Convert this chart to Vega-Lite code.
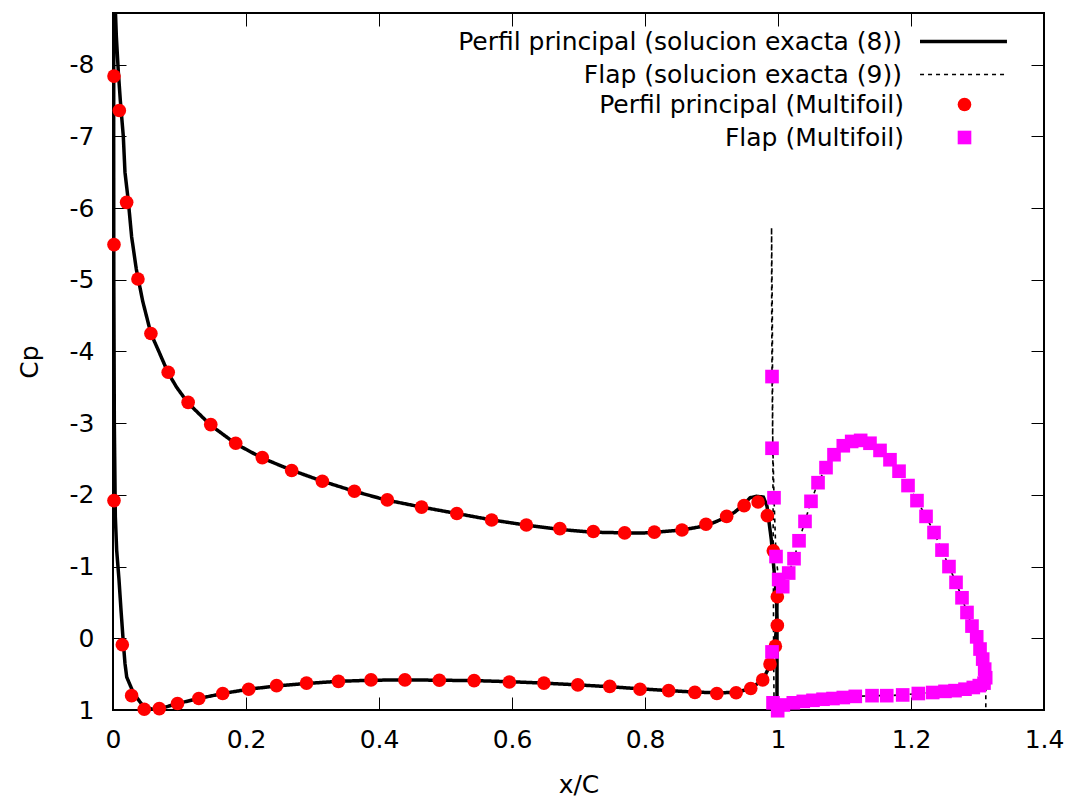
{
  "$schema": "https://vega.github.io/schema/vega-lite/v6.json",
  "width": 931,
  "height": 697,
  "autosize": "none",
  "padding": {"left": 113, "top": 13, "right": 28, "bottom": 90},
  "background": "white",
  "config": {
    "font": "DejaVu Sans",
    "view": {"stroke": "#000", "strokeWidth": 2},
    "axis": {
      "grid": false, "domain": false,
      "labelFont": "DejaVu Sans", "labelFontSize": 25, "labelColor": "#000",
      "tickColor": "#000", "tickSize": -13, "tickWidth": 1,
      "titleFont": "DejaVu Sans", "titleFontSize": 25, "titleFontWeight": "normal", "titleColor": "#000",
      "labelFlush": false, "labelOverlap": false, "labelBound": false
    },
    "legend": {
      "labelFont": "DejaVu Sans", "labelFontSize": 25, "labelColor": "#000", "labelLimit": 2000, "padding": 0
    }
  },
  "datasets": {
    "exact": [
      {"serie": "Perfil principal (solucion exacta (8))", "o": 1, "x": 0.9985, "y": 0.82},
      {"serie": "Perfil principal (solucion exacta (8))", "o": 2, "x": 0.9985, "y": 0.3},
      {"serie": "Perfil principal (solucion exacta (8))", "o": 3, "x": 0.9985, "y": -0.3},
      {"serie": "Perfil principal (solucion exacta (8))", "o": 4, "x": 0.9975, "y": -0.6},
      {"serie": "Perfil principal (solucion exacta (8))", "o": 5, "x": 0.995, "y": -0.85},
      {"serie": "Perfil principal (solucion exacta (8))", "o": 6, "x": 0.99, "y": -1.37},
      {"serie": "Perfil principal (solucion exacta (8))", "o": 7, "x": 0.9835, "y": -1.84},
      {"serie": "Perfil principal (solucion exacta (8))", "o": 8, "x": 0.978, "y": -1.97},
      {"serie": "Perfil principal (solucion exacta (8))", "o": 9, "x": 0.968, "y": -1.98},
      {"serie": "Perfil principal (solucion exacta (8))", "o": 10, "x": 0.958, "y": -1.96},
      {"serie": "Perfil principal (solucion exacta (8))", "o": 11, "x": 0.949, "y": -1.87},
      {"serie": "Perfil principal (solucion exacta (8))", "o": 12, "x": 0.935, "y": -1.76},
      {"serie": "Perfil principal (solucion exacta (8))", "o": 13, "x": 0.92, "y": -1.68},
      {"serie": "Perfil principal (solucion exacta (8))", "o": 14, "x": 0.9, "y": -1.6},
      {"serie": "Perfil principal (solucion exacta (8))", "o": 15, "x": 0.88, "y": -1.55},
      {"serie": "Perfil principal (solucion exacta (8))", "o": 16, "x": 0.855, "y": -1.51},
      {"serie": "Perfil principal (solucion exacta (8))", "o": 17, "x": 0.83, "y": -1.49},
      {"serie": "Perfil principal (solucion exacta (8))", "o": 18, "x": 0.8, "y": -1.47},
      {"serie": "Perfil principal (solucion exacta (8))", "o": 19, "x": 0.77, "y": -1.47},
      {"serie": "Perfil principal (solucion exacta (8))", "o": 20, "x": 0.72, "y": -1.48},
      {"serie": "Perfil principal (solucion exacta (8))", "o": 21, "x": 0.67, "y": -1.52},
      {"serie": "Perfil principal (solucion exacta (8))", "o": 22, "x": 0.62, "y": -1.58},
      {"serie": "Perfil principal (solucion exacta (8))", "o": 23, "x": 0.57, "y": -1.65},
      {"serie": "Perfil principal (solucion exacta (8))", "o": 24, "x": 0.517, "y": -1.74},
      {"serie": "Perfil principal (solucion exacta (8))", "o": 25, "x": 0.464, "y": -1.83},
      {"serie": "Perfil principal (solucion exacta (8))", "o": 26, "x": 0.41, "y": -1.93},
      {"serie": "Perfil principal (solucion exacta (8))", "o": 27, "x": 0.363, "y": -2.05},
      {"serie": "Perfil principal (solucion exacta (8))", "o": 28, "x": 0.315, "y": -2.19},
      {"serie": "Perfil principal (solucion exacta (8))", "o": 29, "x": 0.27, "y": -2.34},
      {"serie": "Perfil principal (solucion exacta (8))", "o": 30, "x": 0.225, "y": -2.51},
      {"serie": "Perfil principal (solucion exacta (8))", "o": 31, "x": 0.185, "y": -2.71},
      {"serie": "Perfil principal (solucion exacta (8))", "o": 32, "x": 0.147, "y": -2.97},
      {"serie": "Perfil principal (solucion exacta (8))", "o": 33, "x": 0.113, "y": -3.28},
      {"serie": "Perfil principal (solucion exacta (8))", "o": 34, "x": 0.0957, "y": -3.5},
      {"serie": "Perfil principal (solucion exacta (8))", "o": 35, "x": 0.083, "y": -3.7},
      {"serie": "Perfil principal (solucion exacta (8))", "o": 36, "x": 0.068, "y": -4.02},
      {"serie": "Perfil principal (solucion exacta (8))", "o": 37, "x": 0.057, "y": -4.25},
      {"serie": "Perfil principal (solucion exacta (8))", "o": 38, "x": 0.0447, "y": -4.7},
      {"serie": "Perfil principal (solucion exacta (8))", "o": 39, "x": 0.035, "y": -5.15},
      {"serie": "Perfil principal (solucion exacta (8))", "o": 40, "x": 0.028, "y": -5.6},
      {"serie": "Perfil principal (solucion exacta (8))", "o": 41, "x": 0.023, "y": -6.1},
      {"serie": "Perfil principal (solucion exacta (8))", "o": 42, "x": 0.018, "y": -6.5},
      {"serie": "Perfil principal (solucion exacta (8))", "o": 43, "x": 0.0155, "y": -7.0},
      {"serie": "Perfil principal (solucion exacta (8))", "o": 44, "x": 0.011, "y": -7.5},
      {"serie": "Perfil principal (solucion exacta (8))", "o": 45, "x": 0.008, "y": -7.9},
      {"serie": "Perfil principal (solucion exacta (8))", "o": 46, "x": 0.005, "y": -8.4},
      {"serie": "Perfil principal (solucion exacta (8))", "o": 47, "x": 0.003, "y": -8.9},
      {"serie": "Perfil principal (solucion exacta (8))", "o": 48, "x": 0.002, "y": -9.3},
      {"serie": "Perfil principal (solucion exacta (8))", "o": 49, "x": 0.0012, "y": -8.7},
      {"serie": "Perfil principal (solucion exacta (8))", "o": 50, "x": 0.001, "y": -7.0},
      {"serie": "Perfil principal (solucion exacta (8))", "o": 51, "x": 0.0012, "y": -5.0},
      {"serie": "Perfil principal (solucion exacta (8))", "o": 52, "x": 0.002, "y": -3.0},
      {"serie": "Perfil principal (solucion exacta (8))", "o": 53, "x": 0.0035, "y": -1.7},
      {"serie": "Perfil principal (solucion exacta (8))", "o": 54, "x": 0.0055, "y": -1.23},
      {"serie": "Perfil principal (solucion exacta (8))", "o": 55, "x": 0.009, "y": -0.82},
      {"serie": "Perfil principal (solucion exacta (8))", "o": 56, "x": 0.012, "y": -0.4},
      {"serie": "Perfil principal (solucion exacta (8))", "o": 57, "x": 0.0155, "y": 0.06},
      {"serie": "Perfil principal (solucion exacta (8))", "o": 58, "x": 0.018, "y": 0.35},
      {"serie": "Perfil principal (solucion exacta (8))", "o": 59, "x": 0.0206, "y": 0.54},
      {"serie": "Perfil principal (solucion exacta (8))", "o": 60, "x": 0.0306, "y": 0.76},
      {"serie": "Perfil principal (solucion exacta (8))", "o": 61, "x": 0.0456, "y": 0.95},
      {"serie": "Perfil principal (solucion exacta (8))", "o": 62, "x": 0.06, "y": 0.99},
      {"serie": "Perfil principal (solucion exacta (8))", "o": 63, "x": 0.075, "y": 0.97},
      {"serie": "Perfil principal (solucion exacta (8))", "o": 64, "x": 0.097, "y": 0.91},
      {"serie": "Perfil principal (solucion exacta (8))", "o": 65, "x": 0.129, "y": 0.84},
      {"serie": "Perfil principal (solucion exacta (8))", "o": 66, "x": 0.165, "y": 0.77},
      {"serie": "Perfil principal (solucion exacta (8))", "o": 67, "x": 0.204, "y": 0.71},
      {"serie": "Perfil principal (solucion exacta (8))", "o": 68, "x": 0.246, "y": 0.665},
      {"serie": "Perfil principal (solucion exacta (8))", "o": 69, "x": 0.291, "y": 0.63},
      {"serie": "Perfil principal (solucion exacta (8))", "o": 70, "x": 0.339, "y": 0.6},
      {"serie": "Perfil principal (solucion exacta (8))", "o": 71, "x": 0.388, "y": 0.585},
      {"serie": "Perfil principal (solucion exacta (8))", "o": 72, "x": 0.44, "y": 0.58},
      {"serie": "Perfil principal (solucion exacta (8))", "o": 73, "x": 0.49, "y": 0.585},
      {"serie": "Perfil principal (solucion exacta (8))", "o": 74, "x": 0.543, "y": 0.59},
      {"serie": "Perfil principal (solucion exacta (8))", "o": 75, "x": 0.596, "y": 0.605},
      {"serie": "Perfil principal (solucion exacta (8))", "o": 76, "x": 0.648, "y": 0.625},
      {"serie": "Perfil principal (solucion exacta (8))", "o": 77, "x": 0.699, "y": 0.65},
      {"serie": "Perfil principal (solucion exacta (8))", "o": 78, "x": 0.747, "y": 0.675},
      {"serie": "Perfil principal (solucion exacta (8))", "o": 79, "x": 0.793, "y": 0.705},
      {"serie": "Perfil principal (solucion exacta (8))", "o": 80, "x": 0.836, "y": 0.73},
      {"serie": "Perfil principal (solucion exacta (8))", "o": 81, "x": 0.875, "y": 0.75},
      {"serie": "Perfil principal (solucion exacta (8))", "o": 82, "x": 0.908, "y": 0.76},
      {"serie": "Perfil principal (solucion exacta (8))", "o": 83, "x": 0.937, "y": 0.755},
      {"serie": "Perfil principal (solucion exacta (8))", "o": 84, "x": 0.959, "y": 0.7},
      {"serie": "Perfil principal (solucion exacta (8))", "o": 85, "x": 0.977, "y": 0.58},
      {"serie": "Perfil principal (solucion exacta (8))", "o": 86, "x": 0.988, "y": 0.38},
      {"serie": "Perfil principal (solucion exacta (8))", "o": 87, "x": 0.995, "y": 0.12},
      {"serie": "Perfil principal (solucion exacta (8))", "o": 88, "x": 0.998, "y": -0.18},
      {"serie": "Perfil principal (solucion exacta (8))", "o": 89, "x": 0.9985, "y": -0.5},
      {"serie": "Flap (solucion exacta (9))", "o": 1, "x": 1.3125, "y": 0.96},
      {"serie": "Flap (solucion exacta (9))", "o": 2, "x": 1.3125, "y": 0.62},
      {"serie": "Flap (solucion exacta (9))", "o": 3, "x": 1.3123, "y": 0.55},
      {"serie": "Flap (solucion exacta (9))", "o": 4, "x": 1.3108, "y": 0.43},
      {"serie": "Flap (solucion exacta (9))", "o": 5, "x": 1.3078, "y": 0.29},
      {"serie": "Flap (solucion exacta (9))", "o": 6, "x": 1.3038, "y": 0.15},
      {"serie": "Flap (solucion exacta (9))", "o": 7, "x": 1.2988, "y": -0.02},
      {"serie": "Flap (solucion exacta (9))", "o": 8, "x": 1.2917, "y": -0.17},
      {"serie": "Flap (solucion exacta (9))", "o": 9, "x": 1.2842, "y": -0.36},
      {"serie": "Flap (solucion exacta (9))", "o": 10, "x": 1.2767, "y": -0.565},
      {"serie": "Flap (solucion exacta (9))", "o": 11, "x": 1.2677, "y": -0.78},
      {"serie": "Flap (solucion exacta (9))", "o": 12, "x": 1.2571, "y": -1.0},
      {"serie": "Flap (solucion exacta (9))", "o": 13, "x": 1.2466, "y": -1.23},
      {"serie": "Flap (solucion exacta (9))", "o": 14, "x": 1.2346, "y": -1.475},
      {"serie": "Flap (solucion exacta (9))", "o": 15, "x": 1.2226, "y": -1.7},
      {"serie": "Flap (solucion exacta (9))", "o": 16, "x": 1.209, "y": -1.92},
      {"serie": "Flap (solucion exacta (9))", "o": 17, "x": 1.1955, "y": -2.13},
      {"serie": "Flap (solucion exacta (9))", "o": 18, "x": 1.182, "y": -2.33},
      {"serie": "Flap (solucion exacta (9))", "o": 19, "x": 1.1684, "y": -2.49},
      {"serie": "Flap (solucion exacta (9))", "o": 20, "x": 1.1534, "y": -2.62},
      {"serie": "Flap (solucion exacta (9))", "o": 21, "x": 1.1383, "y": -2.72},
      {"serie": "Flap (solucion exacta (9))", "o": 22, "x": 1.1243, "y": -2.76},
      {"serie": "Flap (solucion exacta (9))", "o": 23, "x": 1.1108, "y": -2.745},
      {"serie": "Flap (solucion exacta (9))", "o": 24, "x": 1.0982, "y": -2.685},
      {"serie": "Flap (solucion exacta (9))", "o": 25, "x": 1.0842, "y": -2.56},
      {"serie": "Flap (solucion exacta (9))", "o": 26, "x": 1.0722, "y": -2.38},
      {"serie": "Flap (solucion exacta (9))", "o": 27, "x": 1.0602, "y": -2.17},
      {"serie": "Flap (solucion exacta (9))", "o": 28, "x": 1.0496, "y": -1.91},
      {"serie": "Flap (solucion exacta (9))", "o": 29, "x": 1.0406, "y": -1.63},
      {"serie": "Flap (solucion exacta (9))", "o": 30, "x": 1.0316, "y": -1.36},
      {"serie": "Flap (solucion exacta (9))", "o": 31, "x": 1.0241, "y": -1.11},
      {"serie": "Flap (solucion exacta (9))", "o": 32, "x": 1.0161, "y": -0.91},
      {"serie": "Flap (solucion exacta (9))", "o": 33, "x": 1.0071, "y": -0.72},
      {"serie": "Flap (solucion exacta (9))", "o": 34, "x": 1.001, "y": -0.82},
      {"serie": "Flap (solucion exacta (9))", "o": 35, "x": 0.997, "y": -1.14},
      {"serie": "Flap (solucion exacta (9))", "o": 36, "x": 0.994, "y": -1.96},
      {"serie": "Flap (solucion exacta (9))", "o": 37, "x": 0.992, "y": -2.8},
      {"serie": "Flap (solucion exacta (9))", "o": 38, "x": 0.991, "y": -3.7},
      {"serie": "Flap (solucion exacta (9))", "o": 39, "x": 0.9905, "y": -4.6},
      {"serie": "Flap (solucion exacta (9))", "o": 40, "x": 0.9903, "y": -5.73},
      {"serie": "Flap (solucion exacta (9))", "o": 41, "x": 0.9915, "y": -4.5},
      {"serie": "Flap (solucion exacta (9))", "o": 42, "x": 0.992, "y": -3.0},
      {"serie": "Flap (solucion exacta (9))", "o": 43, "x": 0.993, "y": -1.0},
      {"serie": "Flap (solucion exacta (9))", "o": 44, "x": 0.9935, "y": 0.3},
      {"serie": "Flap (solucion exacta (9))", "o": 45, "x": 0.994, "y": 0.85},
      {"serie": "Flap (solucion exacta (9))", "o": 46, "x": 0.9945, "y": 0.97},
      {"serie": "Flap (solucion exacta (9))", "o": 47, "x": 1.0, "y": 0.96},
      {"serie": "Flap (solucion exacta (9))", "o": 48, "x": 1.008, "y": 0.93},
      {"serie": "Flap (solucion exacta (9))", "o": 49, "x": 1.023, "y": 0.9},
      {"serie": "Flap (solucion exacta (9))", "o": 50, "x": 1.038, "y": 0.88},
      {"serie": "Flap (solucion exacta (9))", "o": 51, "x": 1.0526, "y": 0.865},
      {"serie": "Flap (solucion exacta (9))", "o": 52, "x": 1.0677, "y": 0.85},
      {"serie": "Flap (solucion exacta (9))", "o": 53, "x": 1.0827, "y": 0.84},
      {"serie": "Flap (solucion exacta (9))", "o": 54, "x": 1.0982, "y": 0.826},
      {"serie": "Flap (solucion exacta (9))", "o": 55, "x": 1.1162, "y": 0.81},
      {"serie": "Flap (solucion exacta (9))", "o": 56, "x": 1.1414, "y": 0.8},
      {"serie": "Flap (solucion exacta (9))", "o": 57, "x": 1.1635, "y": 0.8},
      {"serie": "Flap (solucion exacta (9))", "o": 58, "x": 1.1875, "y": 0.79},
      {"serie": "Flap (solucion exacta (9))", "o": 59, "x": 1.211, "y": 0.77},
      {"serie": "Flap (solucion exacta (9))", "o": 60, "x": 1.2326, "y": 0.756},
      {"serie": "Flap (solucion exacta (9))", "o": 61, "x": 1.2511, "y": 0.74},
      {"serie": "Flap (solucion exacta (9))", "o": 62, "x": 1.2662, "y": 0.73},
      {"serie": "Flap (solucion exacta (9))", "o": 63, "x": 1.2812, "y": 0.71},
      {"serie": "Flap (solucion exacta (9))", "o": 64, "x": 1.2937, "y": 0.686},
      {"serie": "Flap (solucion exacta (9))", "o": 65, "x": 1.3027, "y": 0.66},
      {"serie": "Flap (solucion exacta (9))", "o": 66, "x": 1.3098, "y": 0.625}
    ],
    "multifoil": [
      {"serie": "Perfil principal (Multifoil)", "x": 0.0015, "y": -7.84},
      {"serie": "Perfil principal (Multifoil)", "x": 0.0095, "y": -7.36},
      {"serie": "Perfil principal (Multifoil)", "x": 0.0205, "y": -6.08},
      {"serie": "Perfil principal (Multifoil)", "x": 0.0375, "y": -5.01},
      {"serie": "Perfil principal (Multifoil)", "x": 0.057, "y": -4.25},
      {"serie": "Perfil principal (Multifoil)", "x": 0.083, "y": -3.71},
      {"serie": "Perfil principal (Multifoil)", "x": 0.113, "y": -3.29},
      {"serie": "Perfil principal (Multifoil)", "x": 0.147, "y": -2.98},
      {"serie": "Perfil principal (Multifoil)", "x": 0.1845, "y": -2.72},
      {"serie": "Perfil principal (Multifoil)", "x": 0.2245, "y": -2.52},
      {"serie": "Perfil principal (Multifoil)", "x": 0.2687, "y": -2.34},
      {"serie": "Perfil principal (Multifoil)", "x": 0.3148, "y": -2.19},
      {"serie": "Perfil principal (Multifoil)", "x": 0.363, "y": -2.05},
      {"serie": "Perfil principal (Multifoil)", "x": 0.4125, "y": -1.93},
      {"serie": "Perfil principal (Multifoil)", "x": 0.464, "y": -1.83},
      {"serie": "Perfil principal (Multifoil)", "x": 0.517, "y": -1.74},
      {"serie": "Perfil principal (Multifoil)", "x": 0.5694, "y": -1.65},
      {"serie": "Perfil principal (Multifoil)", "x": 0.6216, "y": -1.58},
      {"serie": "Perfil principal (Multifoil)", "x": 0.672, "y": -1.53},
      {"serie": "Perfil principal (Multifoil)", "x": 0.7223, "y": -1.49},
      {"serie": "Perfil principal (Multifoil)", "x": 0.7694, "y": -1.47},
      {"serie": "Perfil principal (Multifoil)", "x": 0.814, "y": -1.48},
      {"serie": "Perfil principal (Multifoil)", "x": 0.8556, "y": -1.51},
      {"serie": "Perfil principal (Multifoil)", "x": 0.8917, "y": -1.59},
      {"serie": "Perfil principal (Multifoil)", "x": 0.9228, "y": -1.7},
      {"serie": "Perfil principal (Multifoil)", "x": 0.949, "y": -1.85},
      {"serie": "Perfil principal (Multifoil)", "x": 0.97, "y": -1.9},
      {"serie": "Perfil principal (Multifoil)", "x": 0.984, "y": -1.71},
      {"serie": "Perfil principal (Multifoil)", "x": 0.993, "y": -1.22},
      {"serie": "Perfil principal (Multifoil)", "x": 0.999, "y": -0.58},
      {"serie": "Perfil principal (Multifoil)", "x": 0.999, "y": -0.18},
      {"serie": "Perfil principal (Multifoil)", "x": 0.996, "y": 0.11},
      {"serie": "Perfil principal (Multifoil)", "x": 0.988, "y": 0.36},
      {"serie": "Perfil principal (Multifoil)", "x": 0.977, "y": 0.58},
      {"serie": "Perfil principal (Multifoil)", "x": 0.959, "y": 0.7},
      {"serie": "Perfil principal (Multifoil)", "x": 0.937, "y": 0.76},
      {"serie": "Perfil principal (Multifoil)", "x": 0.908, "y": 0.77},
      {"serie": "Perfil principal (Multifoil)", "x": 0.875, "y": 0.755},
      {"serie": "Perfil principal (Multifoil)", "x": 0.8356, "y": 0.73},
      {"serie": "Perfil principal (Multifoil)", "x": 0.7925, "y": 0.71},
      {"serie": "Perfil principal (Multifoil)", "x": 0.747, "y": 0.67},
      {"serie": "Perfil principal (Multifoil)", "x": 0.699, "y": 0.65},
      {"serie": "Perfil principal (Multifoil)", "x": 0.648, "y": 0.625},
      {"serie": "Perfil principal (Multifoil)", "x": 0.596, "y": 0.61},
      {"serie": "Perfil principal (Multifoil)", "x": 0.543, "y": 0.59},
      {"serie": "Perfil principal (Multifoil)", "x": 0.4907, "y": 0.585},
      {"serie": "Perfil principal (Multifoil)", "x": 0.439, "y": 0.58},
      {"serie": "Perfil principal (Multifoil)", "x": 0.388, "y": 0.58},
      {"serie": "Perfil principal (Multifoil)", "x": 0.339, "y": 0.6},
      {"serie": "Perfil principal (Multifoil)", "x": 0.291, "y": 0.625},
      {"serie": "Perfil principal (Multifoil)", "x": 0.246, "y": 0.66},
      {"serie": "Perfil principal (Multifoil)", "x": 0.204, "y": 0.71},
      {"serie": "Perfil principal (Multifoil)", "x": 0.165, "y": 0.77},
      {"serie": "Perfil principal (Multifoil)", "x": 0.129, "y": 0.84},
      {"serie": "Perfil principal (Multifoil)", "x": 0.097, "y": 0.91},
      {"serie": "Perfil principal (Multifoil)", "x": 0.0696, "y": 0.98},
      {"serie": "Perfil principal (Multifoil)", "x": 0.047, "y": 0.99},
      {"serie": "Perfil principal (Multifoil)", "x": 0.028, "y": 0.8},
      {"serie": "Perfil principal (Multifoil)", "x": 0.014, "y": 0.09},
      {"serie": "Perfil principal (Multifoil)", "x": 0.0015, "y": -1.92},
      {"serie": "Perfil principal (Multifoil)", "x": 0.0015, "y": -5.49},
      {"serie": "Flap (Multifoil)", "x": 0.991, "y": -3.65},
      {"serie": "Flap (Multifoil)", "x": 0.991, "y": -2.65},
      {"serie": "Flap (Multifoil)", "x": 0.994, "y": -1.96},
      {"serie": "Flap (Multifoil)", "x": 0.997, "y": -1.14},
      {"serie": "Flap (Multifoil)", "x": 1.001, "y": -0.82},
      {"serie": "Flap (Multifoil)", "x": 0.991, "y": 0.19},
      {"serie": "Flap (Multifoil)", "x": 0.9925, "y": 0.9},
      {"serie": "Flap (Multifoil)", "x": 0.9995, "y": 1.01},
      {"serie": "Flap (Multifoil)", "x": 1.0071, "y": -0.72},
      {"serie": "Flap (Multifoil)", "x": 1.0161, "y": -0.91},
      {"serie": "Flap (Multifoil)", "x": 1.0241, "y": -1.11},
      {"serie": "Flap (Multifoil)", "x": 1.0316, "y": -1.36},
      {"serie": "Flap (Multifoil)", "x": 1.0406, "y": -1.63},
      {"serie": "Flap (Multifoil)", "x": 1.0496, "y": -1.91},
      {"serie": "Flap (Multifoil)", "x": 1.0602, "y": -2.17},
      {"serie": "Flap (Multifoil)", "x": 1.0722, "y": -2.38},
      {"serie": "Flap (Multifoil)", "x": 1.0842, "y": -2.56},
      {"serie": "Flap (Multifoil)", "x": 1.0982, "y": -2.685},
      {"serie": "Flap (Multifoil)", "x": 1.1108, "y": -2.745},
      {"serie": "Flap (Multifoil)", "x": 1.1243, "y": -2.76},
      {"serie": "Flap (Multifoil)", "x": 1.1383, "y": -2.72},
      {"serie": "Flap (Multifoil)", "x": 1.1534, "y": -2.62},
      {"serie": "Flap (Multifoil)", "x": 1.1684, "y": -2.49},
      {"serie": "Flap (Multifoil)", "x": 1.182, "y": -2.33},
      {"serie": "Flap (Multifoil)", "x": 1.1955, "y": -2.13},
      {"serie": "Flap (Multifoil)", "x": 1.209, "y": -1.92},
      {"serie": "Flap (Multifoil)", "x": 1.2226, "y": -1.7},
      {"serie": "Flap (Multifoil)", "x": 1.2346, "y": -1.475},
      {"serie": "Flap (Multifoil)", "x": 1.2466, "y": -1.23},
      {"serie": "Flap (Multifoil)", "x": 1.2571, "y": -1.0},
      {"serie": "Flap (Multifoil)", "x": 1.2677, "y": -0.78},
      {"serie": "Flap (Multifoil)", "x": 1.2767, "y": -0.565},
      {"serie": "Flap (Multifoil)", "x": 1.2842, "y": -0.36},
      {"serie": "Flap (Multifoil)", "x": 1.2917, "y": -0.17},
      {"serie": "Flap (Multifoil)", "x": 1.2988, "y": -0.02},
      {"serie": "Flap (Multifoil)", "x": 1.3038, "y": 0.15},
      {"serie": "Flap (Multifoil)", "x": 1.3078, "y": 0.29},
      {"serie": "Flap (Multifoil)", "x": 1.3108, "y": 0.43},
      {"serie": "Flap (Multifoil)", "x": 1.3123, "y": 0.55},
      {"serie": "Flap (Multifoil)", "x": 1.3098, "y": 0.625},
      {"serie": "Flap (Multifoil)", "x": 1.3027, "y": 0.66},
      {"serie": "Flap (Multifoil)", "x": 1.2937, "y": 0.686},
      {"serie": "Flap (Multifoil)", "x": 1.2812, "y": 0.71},
      {"serie": "Flap (Multifoil)", "x": 1.2662, "y": 0.73},
      {"serie": "Flap (Multifoil)", "x": 1.2511, "y": 0.74},
      {"serie": "Flap (Multifoil)", "x": 1.2326, "y": 0.756},
      {"serie": "Flap (Multifoil)", "x": 1.211, "y": 0.77},
      {"serie": "Flap (Multifoil)", "x": 1.1875, "y": 0.79},
      {"serie": "Flap (Multifoil)", "x": 1.1635, "y": 0.8},
      {"serie": "Flap (Multifoil)", "x": 1.1414, "y": 0.8},
      {"serie": "Flap (Multifoil)", "x": 1.1162, "y": 0.81},
      {"serie": "Flap (Multifoil)", "x": 1.0982, "y": 0.826},
      {"serie": "Flap (Multifoil)", "x": 1.0827, "y": 0.84},
      {"serie": "Flap (Multifoil)", "x": 1.0677, "y": 0.85},
      {"serie": "Flap (Multifoil)", "x": 1.0526, "y": 0.865},
      {"serie": "Flap (Multifoil)", "x": 1.038, "y": 0.88},
      {"serie": "Flap (Multifoil)", "x": 1.023, "y": 0.9},
      {"serie": "Flap (Multifoil)", "x": 1.008, "y": 0.93}
    ]
  },
  "layer": [
    {
      "data": {"name": "exact"},
      "mark": {"type": "line", "color": "#000", "clip": true},
      "encoding": {
        "x": {"field": "x", "type": "quantitative", "scale": {"domain": [0, 1.4], "nice": false, "zero": false},
              "axis": {"orient": "bottom", "title": "x/C", "values": [0, 0.2, 0.4, 0.6, 0.8, 1, 1.2, 1.4], "labelExpr": "'' + datum.value", "labelPadding": 30, "titlePadding": 20}},
        "y": {"field": "y", "type": "quantitative", "scale": {"domain": [-8.72, 1], "reverse": true, "nice": false, "zero": false},
              "axis": {"orient": "left", "title": "Cp", "values": [-8, -7, -6, -5, -4, -3, -2, -1, 0, 1], "labelExpr": "'' + datum.value", "labelPadding": 32, "titlePadding": 27}},
        "order": {"field": "o", "type": "quantitative"},
        "strokeDash": {"field": "serie", "type": "nominal",
                       "scale": {"domain": ["Perfil principal (solucion exacta (8))", "Flap (solucion exacta (9))"], "range": [[1, 0], [4, 4]]},
                       "legend": {"orient": "none", "legendX": 838, "legendY": 16, "title": null, "labelAlign": "right", "labelOffset": -74, "symbolType": "M-6,0H6", "symbolSize": 210, "rowPadding": 7, "symbolStrokeColor": "#000"}},
        "strokeWidth": {"field": "serie", "type": "nominal",
                        "scale": {"domain": ["Perfil principal (solucion exacta (8))", "Flap (solucion exacta (9))"], "range": [3.5, 1.6]},
                        "legend": {"orient": "none", "legendX": 838, "legendY": 16, "title": null, "labelAlign": "right", "labelOffset": -74, "symbolType": "M-6,0H6", "symbolSize": 210, "rowPadding": 7, "symbolStrokeColor": "#000"}}
      }
    },
    {
      "data": {"name": "multifoil"},
      "mark": {"type": "point", "filled": true, "opacity": 1, "size": 186, "strokeWidth": 0},
      "encoding": {
        "x": {"field": "x", "type": "quantitative", "scale": {"domain": [0, 1.4], "nice": false, "zero": false},
              "axis": {"orient": "top", "title": null, "labels": false, "values": [0, 0.2, 0.4, 0.6, 0.8, 1, 1.2, 1.4]}},
        "y": {"field": "y", "type": "quantitative", "scale": {"domain": [-8.72, 1], "reverse": true, "nice": false, "zero": false},
              "axis": {"orient": "right", "title": null, "labels": false, "values": [-8, -7, -6, -5, -4, -3, -2, -1, 0, 1]}},
        "shape": {"field": "serie", "type": "nominal",
                  "scale": {"domain": ["Perfil principal (Multifoil)", "Flap (Multifoil)"], "range": ["circle", "square"]},
                  "legend": {"orient": "none", "legendX": 839, "legendY": 79, "title": null, "labelAlign": "right", "labelOffset": -73, "symbolSize": 186, "rowPadding": 7, "symbolOpacity": 1, "symbolStrokeWidth": 0}},
        "color": {"field": "serie", "type": "nominal",
                  "scale": {"domain": ["Perfil principal (Multifoil)", "Flap (Multifoil)"], "range": ["#ff0000", "#ff00ff"]},
                  "legend": {"orient": "none", "legendX": 839, "legendY": 79, "title": null, "labelAlign": "right", "labelOffset": -73, "symbolSize": 186, "rowPadding": 7, "symbolOpacity": 1, "symbolStrokeWidth": 0}}
      }
    }
  ],
  "resolve": {"axis": {"x": "independent", "y": "independent"}}
}
